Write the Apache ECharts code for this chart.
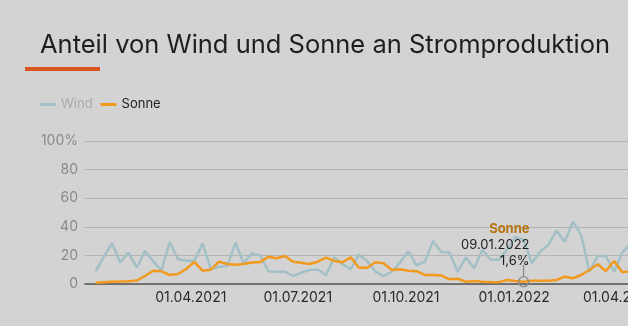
<!DOCTYPE html>
<html>
<head>
<meta charset="utf-8">
<script src="https://cdn.jsdelivr.net/npm/echarts@6/dist/echarts.min.js"></script>
<style>
  html, body { margin:0; padding:0; background:#d3d3d3; overflow:hidden; width:628px; height:326px; }
  #chart { width:660px; height:326px; }
</style>
</head>
<body>
<div id="chart"></div>
<script>
const titleText = 'Anteil von Wind und Sonne an Stromproduktion';
const seriesNames = ['Wind', 'Sonne'];
const dates = [
  '2021-01-10','2021-01-17','2021-01-24','2021-01-31','2021-02-07','2021-02-14','2021-02-21','2021-02-28',
  '2021-03-07','2021-03-14','2021-03-21','2021-03-28','2021-04-04','2021-04-11','2021-04-18','2021-04-25',
  '2021-05-02','2021-05-09','2021-05-16','2021-05-23','2021-05-30','2021-06-06','2021-06-13','2021-06-20',
  '2021-06-27','2021-07-04','2021-07-11','2021-07-18','2021-07-25','2021-08-01','2021-08-08','2021-08-15',
  '2021-08-22','2021-08-29','2021-09-05','2021-09-12','2021-09-19','2021-09-26','2021-10-03','2021-10-10',
  '2021-10-17','2021-10-24','2021-10-31','2021-11-07','2021-11-14','2021-11-21','2021-11-28','2021-12-05',
  '2021-12-12','2021-12-19','2021-12-26','2022-01-02','2022-01-09','2022-01-16','2022-01-23','2022-01-30',
  '2022-02-06','2022-02-13','2022-02-20','2022-02-27','2022-03-06','2022-03-13','2022-03-20','2022-03-27',
  '2022-04-03','2022-04-10'
];
const wind = [
  9, 19, 28.5, 15, 22, 11.5, 23, 16, 9.5, 29.5, 17.5, 16.3, 16.3, 28.4, 10.3, 12,
  12.5, 28.9, 14.5, 21.4, 20, 9, 8.6, 8.6, 5.6, 8, 9.8, 10.2, 6.3, 18.6, 14, 10.3,
  20.5, 16, 8.6, 5.6, 8.6, 15, 23, 13, 15.6, 30, 22.3, 22, 8.6, 18.6, 11, 24,
  17, 17, 24, 33, 31, 14.5, 22.6, 27.3, 37.3, 29.6, 43.6, 34.3, 8.6, 19.6, 19.6, 8.6,
  22, 28
];
const sonne = [
  0.9, 1.2, 1.5, 1.7, 1.9, 2.4, 5.6, 9.3, 8.9, 6.3, 7, 10.5, 15.5, 9.3, 10, 15.6,
  14, 13.5, 14, 15, 15.4, 19, 18, 19.6, 15.6, 14.9, 14, 15.6, 18.4, 16.1, 15.2, 18.6,
  11.4, 11.4, 15.2, 14.5, 9.8, 10.3, 9.3, 9, 6.3, 6.3, 6, 3.3, 3.7, 1.6, 2.1, 1.6,
  1.4, 1.3, 2.8, 2.1, 1.6, 2.3, 2.3, 2.3, 2.8, 5.1, 4, 6.3, 9.8, 13.8, 9.1, 16.1,
  8.2, 9
];
const xTicks = ['2021-04-01', '2021-07-01', '2021-10-01', '2022-01-01', '2022-04-01'];
const xRange = ['2021-01-01', '2022-04-17'];
const yTicks = [0, 20, 40, 60, 80, 100];
const annotIndex = 52;

const ts = s => Date.parse(s + 'T00:00:00Z');
function fmtDate(v) {
  const d = new Date(v);
  const dd = String(d.getUTCDate()).padStart(2, '0');
  const mm = String(d.getUTCMonth() + 1).padStart(2, '0');
  return dd + '.' + mm + '.' + d.getUTCFullYear();
}
const FONT = 'Inter, "Noto Sans", sans-serif';

const chart = echarts.init(document.getElementById('chart'), null, { renderer: 'canvas' });
const annotDate = ts(dates[annotIndex]);
const annotVal = sonne[annotIndex];

chart.setOption({
  backgroundColor: '#d3d3d3',
  animation: false,
  title: {
    text: titleText,
    left: 35, top: 27,
    textStyle: { fontFamily: FONT, fontSize: 25.5, fontWeight: 'normal', color: '#1e1e1e' }
  },
  graphic: [{
    type: 'rect', left: 25, top: 67, shape: { width: 75, height: 4 },
    style: { fill: '#d9531e' }
  }],
  legend: {
    left: 35, top: 93,
    icon: 'rect', itemWidth: 16, itemHeight: 3, itemGap: 8,
    textStyle: { fontFamily: FONT, fontSize: 13 },
    data: [
      { name: seriesNames[0], textStyle: { color: '#ababab' } },
      { name: seriesNames[1], textStyle: { color: '#1e1e1e' } }
    ]
  },
  grid: { left: 85, top: 141, right: 19, bottom: 42, containLabel: false },
  xAxis: {
    type: 'value',
    min: ts(xRange[0]), max: ts(xRange[1]),
    axisLine: { show: true, onZero: false, lineStyle: { color: '#555', width: 1.5 } },
    axisTick: { show: false },
    splitLine: { show: false },
    axisLabel: {
      customValues: xTicks.map(ts),
      formatter: v => fmtDate(v),
      color: '#2a2a2a', fontFamily: FONT, fontSize: 14, margin: 7,
      hideOverlap: false
    }
  },
  yAxis: {
    type: 'value', min: 0, max: 100, interval: 20,
    axisLine: { show: false }, axisTick: { show: false },
    splitLine: { lineStyle: { color: '#b3b3b3', width: 1 } },
    axisLabel: {
      formatter: v => (v === yTicks[yTicks.length - 1] ? v + '%' : String(v)),
      color: '#8a8a8a', fontFamily: FONT, fontSize: 14, margin: 7
    }
  },
  series: [
    {
      name: seriesNames[0], type: 'line', symbol: 'none', showSymbol: false,
      data: dates.map((d, i) => [ts(d), wind[i]]),
      lineStyle: { color: '#a2c0c5', width: 2.5 },
      itemStyle: { color: '#a2c0c5' },
      z: 2
    },
    {
      name: seriesNames[1], type: 'line', symbol: 'none', showSymbol: false,
      data: dates.map((d, i) => [ts(d), sonne[i]]),
      lineStyle: { color: '#f19a1e', width: 2.5 },
      itemStyle: { color: '#f19a1e' },
      z: 3,
      markPoint: {
        silent: true,
        data: [
          {
            coord: [annotDate, annotVal],
            symbol: 'circle', symbolSize: 10,
            itemStyle: { color: 'rgba(0,0,0,0)', borderColor: '#8a8a8a', borderWidth: 1.3 },
            label: {
              show: true, position: 'top', distance: 7, align: 'right', offset: [6, 0],
              formatter: '{t|' + seriesNames[1] + '}\n{d|' + fmtDate(annotDate) + '}\n{d|' + String(annotVal).replace('.', ',') + '%}',
              rich: {
                t: { fontFamily: FONT, fontSize: 13, fontWeight: 'bold', color: '#b5730c', lineHeight: 16, align: 'right' },
                d: { fontFamily: FONT, fontSize: 13, color: '#1e1e1e', lineHeight: 16, align: 'right' }
              }
            }
          },
          {
            coord: [annotDate, annotVal],
            symbol: 'rect', symbolSize: [1.3, 12], symbolOffset: [0, -11],
            itemStyle: { color: '#8a8a8a', borderWidth: 0 },
            label: { show: false }
          }
        ]
      }
    }
  ]
});
</script>
</body>
</html>
